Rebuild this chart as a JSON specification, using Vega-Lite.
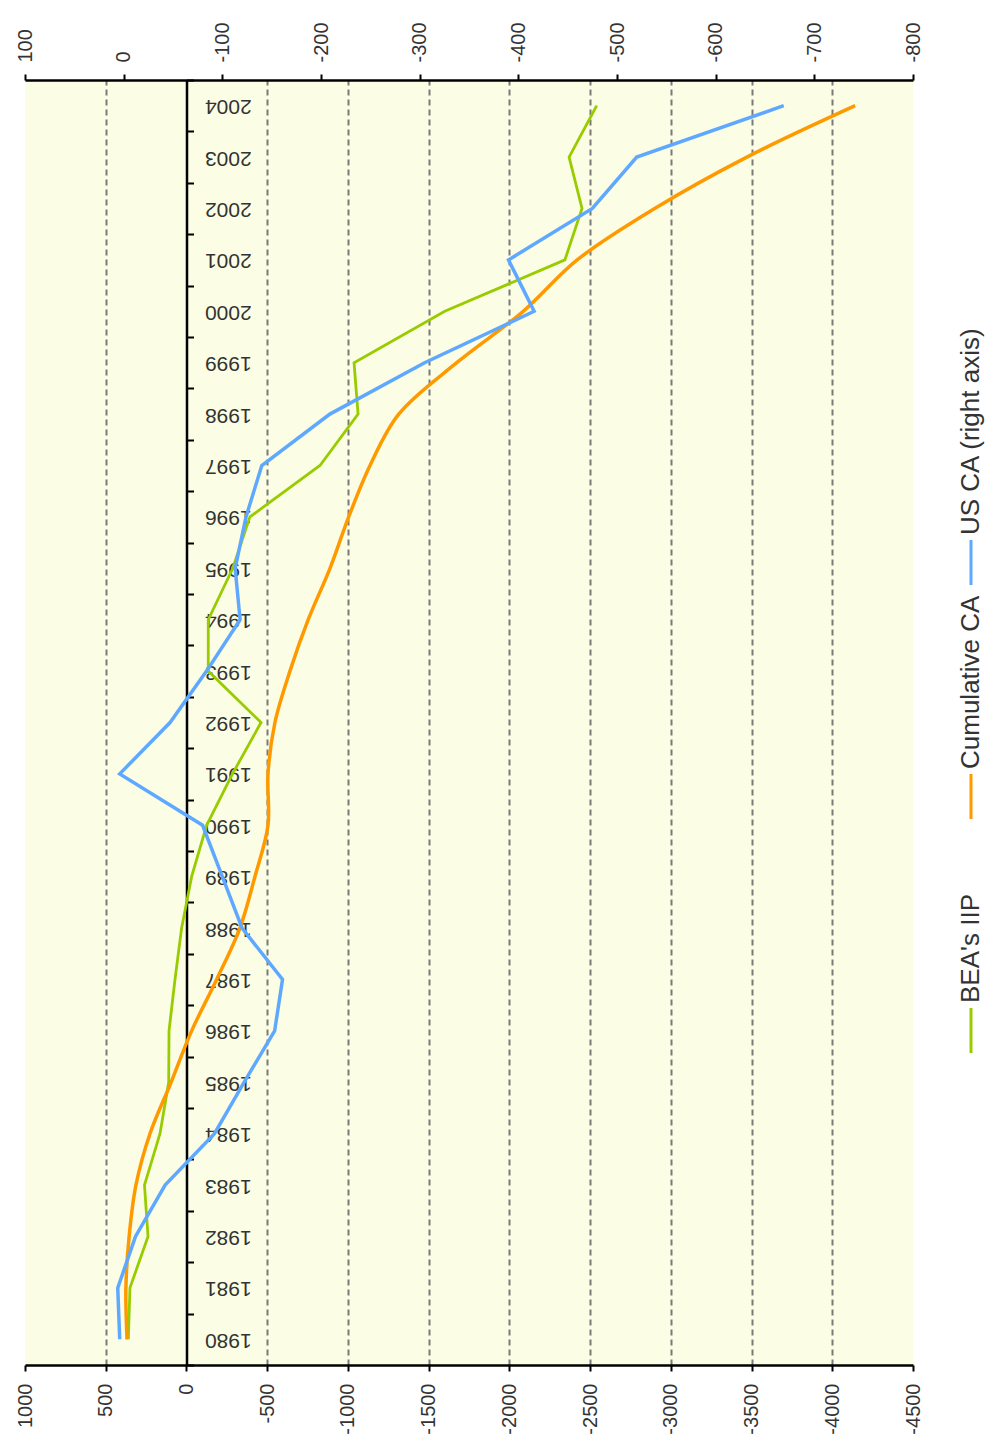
{
  "$schema": "https://vega.github.io/schema/vega-lite/v6.json",
  "width": 888,
  "height": 1285,
  "autosize": {"type": "none"},
  "padding": {"left": 25, "top": 80, "right": 73, "bottom": 88},
  "background": "#ffffff",
  "config": {
    "view": {"fill": "#FBFEE5", "stroke": null},
    "font": "Liberation Sans",
    "axis": {
      "labelFont": "Liberation Sans",
      "labelColor": "#333333",
      "domainColor": "#000000",
      "tickColor": "#000000",
      "domainWidth": 2.5,
      "tickWidth": 2,
      "tickSize": 6,
      "labelOverlap": false,
      "labelFlush": false,
      "title": null
    }
  },
  "datasets": {
    "series": [
      {"year": 1980, "iip": 360, "cum": 368, "ca": 4},
      {"year": 1981, "iip": 350, "cum": 375, "ca": 6},
      {"year": 1982, "iip": 238, "cum": 355, "ca": -12},
      {"year": 1983, "iip": 260, "cum": 313, "ca": -42},
      {"year": 1984, "iip": 164, "cum": 226, "ca": -92},
      {"year": 1985, "iip": 110, "cum": 95, "ca": -122},
      {"year": 1986, "iip": 108, "cum": -32, "ca": -153},
      {"year": 1987, "iip": 71, "cum": -187, "ca": -161},
      {"year": 1988, "iip": 30, "cum": -331, "ca": -120},
      {"year": 1989, "iip": -32, "cum": -424, "ca": -100},
      {"year": 1990, "iip": -125, "cum": -505, "ca": -80},
      {"year": 1991, "iip": -285, "cum": -505, "ca": 4},
      {"year": 1992, "iip": -462, "cum": -548, "ca": -47},
      {"year": 1993, "iip": -135, "cum": -641, "ca": -84},
      {"year": 1994, "iip": -135, "cum": -754, "ca": -118},
      {"year": 1995, "iip": -287, "cum": -889, "ca": -113},
      {"year": 1996, "iip": -393, "cum": -1005, "ca": -124},
      {"year": 1997, "iip": -827, "cum": -1137, "ca": -140},
      {"year": 1998, "iip": -1063, "cum": -1315, "ca": -209},
      {"year": 1999, "iip": -1038, "cum": -1674, "ca": -305},
      {"year": 2000, "iip": -1600, "cum": -2086, "ca": -416},
      {"year": 2001, "iip": -2344, "cum": -2420, "ca": -390},
      {"year": 2002, "iip": -2450, "cum": -2900, "ca": -475},
      {"year": 2003, "iip": -2370, "cum": -3471, "ca": -520},
      {"year": 2004, "iip": -2541, "cum": -4142, "ca": -669}
    ],
    "legend": [
      {"label": "US CA (right axis)"},
      {"label": "Cumulative CA"},
      {"label": "BEA's IIP"}
    ]
  },
  "layer": [
    {
      "data": {"name": "series"},
      "encoding": {
        "y": {
          "field": "year",
          "type": "ordinal",
          "sort": "descending",
          "bandPosition": 0.5,
          "scale": {"type": "band", "paddingInner": 0, "paddingOuter": 0},
          "axis": {
            "orient": "right",
            "offset": -726.5,
            "labelAngle": 180,
            "labelAlign": "right",
            "labelBaseline": "middle",
            "labelFontSize": 21,
            "labelPadding": 11,
            "tickBand": "extent",
            "tickSize": 7,
            "domainWidth": 2.5,
            "grid": false
          }
        }
      },
      "layer": [
        {
          "mark": {"type": "line", "color": "#99CC00", "strokeWidth": 2.8},
          "encoding": {
            "x": {
              "field": "iip",
              "type": "quantitative",
              "scale": {"domain": [-4500, 1000], "reverse": true, "nice": false, "zero": false},
              "axis": {
                "orient": "bottom",
                "values": [1000, 500, 0, -500, -1000, -1500, -2000, -2500, -3000, -3500, -4000, -4500],
                "labelExpr": "'' + datum.value",
                "labelAngle": 270,
                "labelAlign": "right",
                "labelBaseline": "middle",
                "labelFontSize": 20,
                "labelPadding": 12,
                "grid": true,
                "gridColor": "#7a7a7a",
                "gridWidth": 2,
                "gridDash": [6, 4],
                "gridOpacity": {"condition": {"test": "datum.value === 1000 || datum.value === -4500 || datum.value === 0", "value": 0}, "value": 1}
              }
            }
          }
        },
        {
          "mark": {"type": "line", "color": "#FF9900", "strokeWidth": 3.5, "interpolate": "catmull-rom"},
          "encoding": {
            "x": {
              "field": "cum",
              "type": "quantitative",
              "scale": {"domain": [-4500, 1000], "reverse": true, "nice": false, "zero": false},
              "axis": null
            }
          }
        },
        {
          "mark": {"type": "line", "color": "#5FA8FF", "strokeWidth": 3.5},
          "encoding": {
            "x": {
              "field": "ca",
              "type": "quantitative",
              "scale": {"domain": [-800, 100], "reverse": true, "nice": false, "zero": false},
              "axis": {
                "orient": "top",
                "values": [100, 0, -100, -200, -300, -400, -500, -600, -700, -800],
                "labelExpr": "'' + datum.value",
                "labelAngle": 270,
                "labelAlign": "left",
                "labelBaseline": "middle",
                "labelFontSize": 20,
                "labelPadding": 12,
                "grid": false
              }
            }
          }
        }
      ],
      "resolve": {"scale": {"x": "independent"}}
    },
    {
      "data": {"name": "legend"},
      "encoding": {
        "y": {
          "field": "label",
          "type": "nominal",
          "scale": {"type": "point", "padding": 0, "domain": ["US CA (right axis)", "Cumulative CA", "BEA's IIP"], "range": [460, 928]},
          "axis": null
        }
      },
      "layer": [
        {
          "mark": {"type": "rule", "x": {"expr": "width + 58"}, "y2Offset": 45, "strokeWidth": 3},
          "encoding": {
            "y2": {"field": "label"},
            "color": {
              "field": "label",
              "type": "nominal",
              "scale": {"domain": ["US CA (right axis)", "Cumulative CA", "BEA's IIP"], "range": ["#5FA8FF", "#FF9900", "#99CC00"]},
              "legend": null
            }
          }
        },
        {
          "mark": {"type": "text", "x": {"expr": "width + 58"}, "angle": 270, "align": "left", "baseline": "middle", "dx": 5, "fontSize": 26, "color": "#333333", "font": "Liberation Sans"},
          "encoding": {"text": {"field": "label"}}
        }
      ]
    }
  ],
  "resolve": {"scale": {"x": "independent", "y": "independent"}}
}
